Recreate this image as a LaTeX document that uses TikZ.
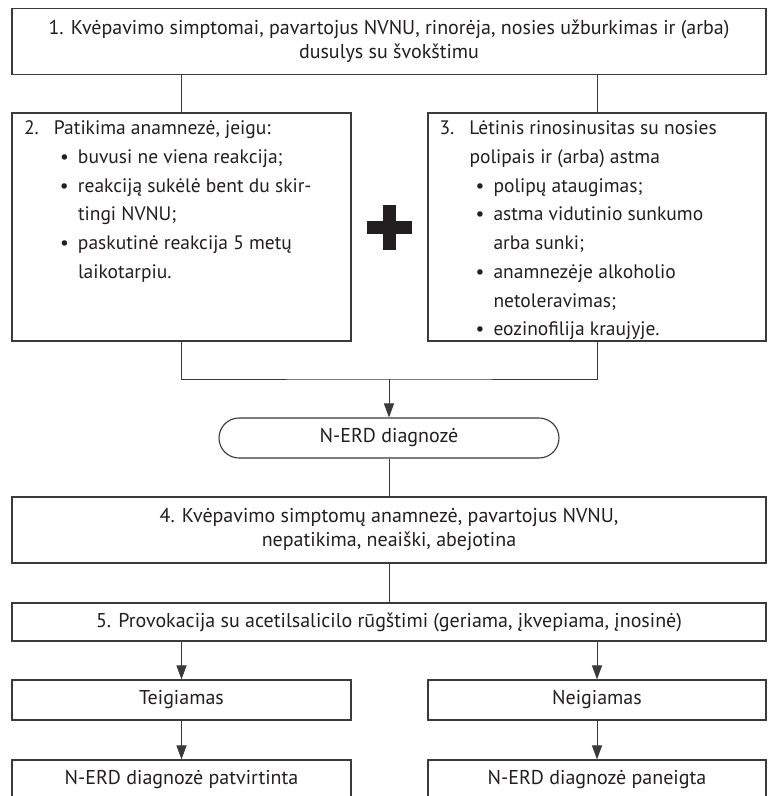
\documentclass[tikz,border=0pt]{standalone}
\usepackage{fontspec}
\setmainfont{PT Sans}
\usetikzlibrary{arrows.meta,shapes.misc}
\definecolor{ink}{HTML}{231F20}
\definecolor{edge}{HTML}{3A3A3A}
\tikzset{
  box/.style={draw=edge, line width=1.1pt, rectangle, inner sep=0pt, text=ink, align=center, font=\fontsize{20}{24}\selectfont},
  listbox/.style={draw=edge, line width=1.1pt, rectangle, inner sep=0pt, text=ink, minimum height=228pt},
  conn/.style={draw=edge, line width=1pt},
  arr/.style={conn, -{Triangle[width=10pt,length=14pt]}},
}
\newcommand{\numl}[2]{\hbox to 315pt{\hbox to 30pt{#1\hss}#2\hss}}
\newcommand{\bull}[1]{\hbox to 315pt{\kern36pt\hbox to 18pt{\textbullet\hss}#1\hss}}
\newcommand{\cont}[2][54pt]{\hbox to 315pt{\kern#1 #2\hss}}
\newcommand{\listtext}[1]{\vbox to 212pt{\hsize=315pt\fontsize{19.5}{28.7}\selectfont\baselineskip=28.7pt #1\vfil}}
\begin{document}
\begin{tikzpicture}[x=1pt,y=-1pt]
\useasboundingbox (0,0) rectangle (768,796);
\fill[white] (0,0) rectangle (768,796);
% boxes
\node[box, minimum width=754pt, minimum height=66pt] (b1) at (389,41.5)
  {1. Kvėpavimo simptomai, pavartojus NVNU, rinorėja, nosies užburkimas ir (arba)\\ dusulys su švokštimu};
\node[listbox, minimum width=339pt] (b2) at (181.5,227)
  {\listtext{%
   \numl{2.}{Patikima anamnezė, jeigu:}%
   \bull{buvusi ne viena reakcija;}%
   \bull{reakciją sukėlė bent du skir-}%
   \cont{tingi NVNU;}%
   \bull{paskutinė reakcija 5 metų}%
   \cont{laikotarpiu.}}};
\node[listbox, minimum width=338pt] (b3) at (597,227)
  {\listtext{%
   \numl{3.}{Lėtinis rinosinusitas su nosies}%
   \cont[30pt]{polipais ir (arba) astma}%
   \bull{polipų ataugimas;}%
   \bull{astma vidutinio sunkumo}%
   \cont{arba sunki;}%
   \bull{anamnezėje alkoholio}%
   \cont{netoleravimas;}%
   \bull{eozinofilija kraujyje.}}};
\fill[ink] (367,221) rectangle (412,234);
\fill[ink] (383,205) rectangle (396,250);
\coordinate (j) at (389,379);
\node[box, rounded rectangle, minimum width=340pt, minimum height=40pt] (ov) at (389,438) {N-ERD diagnozė};
\node[box, minimum width=754pt, minimum height=66pt] (b4) at (389,530)
  {4. Kvėpavimo simptomų anamnezė, pavartojus NVNU,\\ nepatikima, neaiški, abejotina};
\node[box, minimum width=754pt, minimum height=38pt] (b5) at (389,622)
  {5. Provokacija su acetilsalicilo rūgštimi (geriama, įkvepiama, įnosinė)};
\node[box, minimum width=339pt, minimum height=40pt] (t) at (181.5,700) {Teigiamas};
\node[box, minimum width=338pt, minimum height=40pt] (n) at (597,700) {Neigiamas};
\node[box, minimum width=339pt, minimum height=40pt] (tf) at (181.5,780) {N-ERD diagnozė patvirtinta};
\node[box, minimum width=338pt, minimum height=40pt] (nf) at (597,780) {N-ERD diagnozė paneigta};
% connectors
\draw[conn] (b2.north |- b1.south) -- (b2.north);
\draw[conn] (b3.north |- b1.south) -- (b3.north);
\draw[conn] (b2.south) |- (j) -| (b3.south);
\draw[arr] (j) -- (ov.north);
\draw[conn] (ov.south) -- (b4.north);
\draw[conn] (b4.south) -- (b5.north);
\draw[arr] (t.north |- b5.south) -- (t.north);
\draw[arr] (n.north |- b5.south) -- (n.north);
\draw[arr] (t.south) -- (tf.north);
\draw[arr] (n.south) -- (nf.north);
\end{tikzpicture}
\end{document}
